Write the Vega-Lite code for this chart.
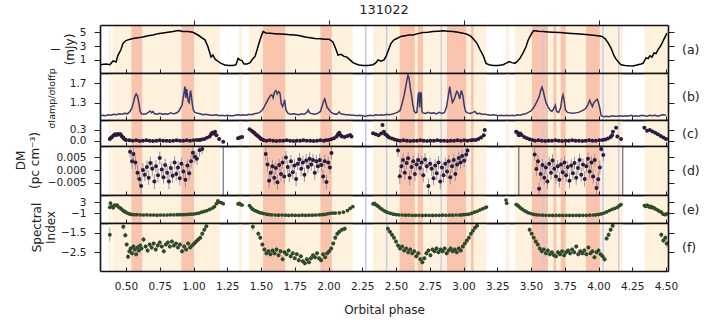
{
"$schema":"https://vega.github.io/schema/vega-lite/v6.json",
"padding":{"left":14,"top":3,"right":5,"bottom":5},
"config":{"view":{"stroke":null},"font":"DejaVu Sans","axis":{"labelFont":"DejaVu Sans","titleFont":"DejaVu Sans","labelFontSize":10.5,"titleFontSize":12,"titleFontWeight":"normal","labelColor":"#222","titleColor":"#222","tickColor":"#222","domainColor":"#111","grid":false}},
"datasets":{
"bands":[
{"x0":0.37,"x1":0.39,"kind":"light"},{"x0":0.40,"x1":1.196,"kind":"light"},{"x0":1.335,"x1":1.36,"kind":"light"},{"x0":1.41,"x1":2.18,"kind":"light"},{"x0":2.33,"x1":3.17,"kind":"light"},{"x0":3.31,"x1":3.34,"kind":"light"},{"x0":3.38,"x1":4.18,"kind":"light"},{"x0":4.34,"x1":4.52,"kind":"light"},
{"x0":0.54,"x1":0.62,"kind":"salmon"},{"x0":0.91,"x1":1.004,"kind":"salmon"},{"x0":1.515,"x1":1.68,"kind":"salmon"},{"x0":1.94,"x1":2.025,"kind":"salmon"},{"x0":2.527,"x1":2.64,"kind":"salmon"},{"x0":2.66,"x1":2.70,"kind":"salmon"},{"x0":2.878,"x1":3.02,"kind":"salmon"},{"x0":3.055,"x1":3.075,"kind":"salmon"},{"x0":3.507,"x1":3.626,"kind":"salmon"},{"x0":3.667,"x1":3.687,"kind":"salmon"},{"x0":3.72,"x1":3.757,"kind":"salmon"},{"x0":3.907,"x1":4.01,"kind":"salmon"},
{"x0":2.27,"x1":2.282,"kind":"lav"},{"x0":2.425,"x1":2.436,"kind":"lav"},{"x0":2.83,"x1":2.84,"kind":"lav"},{"x0":3.59,"x1":3.6,"kind":"lav"},{"x0":4.028,"x1":4.039,"kind":"lav"},{"x0":4.145,"x1":4.155,"kind":"lav"}
],
"flux":[
{"phase":0.307,"I":0.3},{"phase":0.352,"I":0.4},{"phase":0.381,"I":0.3},{"phase":0.404,"I":0.85},{"phase":0.426,"I":0.7},{"phase":0.441,"I":1.7},{"phase":0.463,"I":2.5},{"phase":0.478,"I":3.4},{"phase":0.5,"I":3.8},{"phase":0.515,"I":3.9},{"phase":0.552,"I":4.1},{"phase":0.589,"I":4.2},{"phase":0.626,"I":4.3},{"phase":0.663,"I":4.5},{"phase":0.7,"I":4.6},{"phase":0.737,"I":4.8},{"phase":0.774,"I":4.9},{"phase":0.811,"I":5.0},{"phase":0.848,"I":5.1},{"phase":0.885,"I":5.25},{"phase":0.922,"I":5.1},{"phase":0.959,"I":5.1},{"phase":0.996,"I":5.0},{"phase":1.033,"I":4.6},{"phase":1.063,"I":4.2},{"phase":1.085,"I":3.9},{"phase":1.107,"I":2.9},{"phase":1.13,"I":1.4},{"phase":1.144,"I":1.7},{"phase":1.159,"I":1.1},{"phase":1.181,"I":0.8},{"phase":1.204,"I":0.5},{"phase":1.233,"I":0.25},{"phase":1.263,"I":0.2},{"phase":1.293,"I":0.2},{"phase":1.315,"I":0.3},{"phase":1.33,"I":1.2},{"phase":1.344,"I":1.0},{"phase":1.359,"I":0.9},{"phase":1.374,"I":0.4},{"phase":1.396,"I":0.4},{"phase":1.419,"I":0.6},{"phase":1.441,"I":1.2},{"phase":1.456,"I":1.5},{"phase":1.47,"I":2.4},{"phase":1.485,"I":3.4},{"phase":1.5,"I":4.3},{"phase":1.515,"I":5.1},{"phase":1.537,"I":4.9},{"phase":1.567,"I":4.85},{"phase":1.604,"I":4.8},{"phase":1.641,"I":4.75},{"phase":1.678,"I":4.7},{"phase":1.715,"I":4.65},{"phase":1.752,"I":4.6},{"phase":1.789,"I":4.5},{"phase":1.826,"I":4.3},{"phase":1.863,"I":4.2},{"phase":1.9,"I":4.1},{"phase":1.937,"I":4.05},{"phase":1.974,"I":4.0},{"phase":2.004,"I":4.0},{"phase":2.033,"I":3.6},{"phase":2.056,"I":2.5},{"phase":2.07,"I":1.7},{"phase":2.093,"I":1.8},{"phase":2.115,"I":1.5},{"phase":2.137,"I":1.4},{"phase":2.159,"I":1.0},{"phase":2.181,"I":0.6},{"phase":2.204,"I":0.4},{"phase":2.226,"I":0.25},{"phase":2.256,"I":0.2},{"phase":2.293,"I":0.2},{"phase":2.33,"I":0.3},{"phase":2.352,"I":0.6},{"phase":2.367,"I":1.0},{"phase":2.389,"I":0.8},{"phase":2.411,"I":1.0},{"phase":2.426,"I":1.5},{"phase":2.448,"I":2.6},{"phase":2.463,"I":3.4},{"phase":2.485,"I":3.9},{"phase":2.507,"I":4.1},{"phase":2.537,"I":4.4},{"phase":2.567,"I":4.5},{"phase":2.596,"I":4.6},{"phase":2.626,"I":4.6},{"phase":2.663,"I":4.8},{"phase":2.7,"I":4.95},{"phase":2.737,"I":5.0},{"phase":2.774,"I":5.1},{"phase":2.811,"I":5.15},{"phase":2.848,"I":5.2},{"phase":2.885,"I":5.15},{"phase":2.922,"I":5.1},{"phase":2.959,"I":5.0},{"phase":2.996,"I":4.87},{"phase":3.026,"I":4.7},{"phase":3.056,"I":4.4},{"phase":3.078,"I":3.9},{"phase":3.1,"I":3.4},{"phase":3.122,"I":2.5},{"phase":3.144,"I":1.7},{"phase":3.167,"I":0.5},{"phase":3.189,"I":0.3},{"phase":3.219,"I":0.2},{"phase":3.256,"I":0.2},{"phase":3.293,"I":0.3},{"phase":3.315,"I":0.5},{"phase":3.337,"I":0.75},{"phase":3.359,"I":0.6},{"phase":3.381,"I":0.5},{"phase":3.404,"I":0.9},{"phase":3.419,"I":1.25},{"phase":3.441,"I":2.0},{"phase":3.463,"I":2.9},{"phase":3.478,"I":3.8},{"phase":3.493,"I":4.4},{"phase":3.507,"I":4.9},{"phase":3.522,"I":5.25},{"phase":3.552,"I":5.15},{"phase":3.589,"I":5.1},{"phase":3.626,"I":5.05},{"phase":3.663,"I":5.0},{"phase":3.715,"I":4.95},{"phase":3.774,"I":4.87},{"phase":3.833,"I":4.8},{"phase":3.885,"I":4.7},{"phase":3.944,"I":4.6},{"phase":3.996,"I":4.5},{"phase":4.026,"I":4.4},{"phase":4.048,"I":4.1},{"phase":4.07,"I":3.5},{"phase":4.093,"I":2.7},{"phase":4.115,"I":1.6},{"phase":4.13,"I":1.1},{"phase":4.152,"I":0.6},{"phase":4.167,"I":0.28},{"phase":4.196,"I":0.2},{"phase":4.226,"I":0.15},{"phase":4.256,"I":0.13},{"phase":4.293,"I":0.3},{"phase":4.315,"I":0.4},{"phase":4.33,"I":0.5},{"phase":4.352,"I":1.3},{"phase":4.367,"I":1.2},{"phase":4.381,"I":1.6},{"phase":4.396,"I":1.4},{"phase":4.411,"I":2.0},{"phase":4.426,"I":1.9},{"phase":4.441,"I":2.5},{"phase":4.456,"I":2.9},{"phase":4.47,"I":3.4},{"phase":4.485,"I":4.0},{"phase":4.507,"I":4.87}
],
"ratio":[
{"phase":0.31,"r":1.03},{"phase":0.33,"r":1.04},{"phase":0.35,"r":1.03},{"phase":0.37,"r":1.05},{"phase":0.39,"r":1.04},{"phase":0.41,"r":1.06},{"phase":0.43,"r":1.05},{"phase":0.45,"r":1.07},{"phase":0.47,"r":1.06},{"phase":0.49,"r":1.08},{"phase":0.51,"r":1.07},{"phase":0.53,"r":1.12},{"phase":0.545,"r":1.2},{"phase":0.555,"r":1.3},{"phase":0.565,"r":1.42},{"phase":0.575,"r":1.48},{"phase":0.585,"r":1.44},{"phase":0.595,"r":1.3},{"phase":0.605,"r":1.12},{"phase":0.615,"r":1.07},{"phase":0.63,"r":1.06},{"phase":0.65,"r":1.07},{"phase":0.67,"r":1.11},{"phase":0.68,"r":1.13},{"phase":0.69,"r":1.09},{"phase":0.7,"r":1.12},{"phase":0.71,"r":1.07},{"phase":0.73,"r":1.06},{"phase":0.75,"r":1.08},{"phase":0.77,"r":1.06},{"phase":0.79,"r":1.07},{"phase":0.81,"r":1.06},{"phase":0.83,"r":1.09},{"phase":0.85,"r":1.07},{"phase":0.87,"r":1.08},{"phase":0.89,"r":1.12},{"phase":0.905,"r":1.2},{"phase":0.915,"r":1.25},{"phase":0.925,"r":1.42},{"phase":0.932,"r":1.55},{"phase":0.937,"r":1.63},{"phase":0.943,"r":1.4},{"phase":0.95,"r":1.58},{"phase":0.955,"r":1.45},{"phase":0.962,"r":1.32},{"phase":0.968,"r":1.3},{"phase":0.975,"r":1.5},{"phase":0.979,"r":1.55},{"phase":0.985,"r":1.42},{"phase":0.992,"r":1.25},{"phase":1.0,"r":1.14},{"phase":1.01,"r":1.1},{"phase":1.03,"r":1.08},{"phase":1.05,"r":1.07},{"phase":1.07,"r":1.05},{"phase":1.09,"r":1.06},{"phase":1.11,"r":1.05},{"phase":1.13,"r":1.04},{"phase":1.15,"r":1.04},{"phase":1.17,"r":1.05},{"phase":1.19,"r":1.03},{"phase":1.21,"r":1.04},{"phase":1.23,"r":1.03},{"phase":1.25,"r":1.04},{"phase":1.27,"r":1.03},{"phase":1.29,"r":1.03},{"phase":1.31,"r":1.04},{"phase":1.33,"r":1.05},{"phase":1.35,"r":1.04},{"phase":1.37,"r":1.05},{"phase":1.39,"r":1.04},{"phase":1.41,"r":1.06},{"phase":1.43,"r":1.05},{"phase":1.45,"r":1.07},{"phase":1.47,"r":1.08},{"phase":1.49,"r":1.1},{"phase":1.51,"r":1.15},{"phase":1.525,"r":1.22},{"phase":1.54,"r":1.3},{"phase":1.555,"r":1.38},{"phase":1.57,"r":1.45},{"phase":1.58,"r":1.46},{"phase":1.59,"r":1.4},{"phase":1.6,"r":1.52},{"phase":1.61,"r":1.55},{"phase":1.62,"r":1.48},{"phase":1.63,"r":1.53},{"phase":1.64,"r":1.5},{"phase":1.65,"r":1.28},{"phase":1.66,"r":1.22},{"phase":1.67,"r":1.3},{"phase":1.675,"r":1.36},{"phase":1.685,"r":1.15},{"phase":1.7,"r":1.08},{"phase":1.72,"r":1.06},{"phase":1.74,"r":1.07},{"phase":1.76,"r":1.06},{"phase":1.78,"r":1.05},{"phase":1.8,"r":1.07},{"phase":1.82,"r":1.06},{"phase":1.84,"r":1.1},{"phase":1.85,"r":1.15},{"phase":1.86,"r":1.09},{"phase":1.88,"r":1.07},{"phase":1.9,"r":1.06},{"phase":1.92,"r":1.08},{"phase":1.94,"r":1.12},{"phase":1.955,"r":1.25},{"phase":1.965,"r":1.34},{"phase":1.972,"r":1.38},{"phase":1.98,"r":1.3},{"phase":1.99,"r":1.2},{"phase":2.0,"r":1.17},{"phase":2.02,"r":1.1},{"phase":2.04,"r":1.07},{"phase":2.06,"r":1.06},{"phase":2.08,"r":1.11},{"phase":2.09,"r":1.07},{"phase":2.11,"r":1.06},{"phase":2.13,"r":1.05},{"phase":2.15,"r":1.05},{"phase":2.17,"r":1.04},{"phase":2.19,"r":1.04},{"phase":2.21,"r":1.03},{"phase":2.23,"r":1.04},{"phase":2.25,"r":1.03},{"phase":2.27,"r":1.02},{"phase":2.29,"r":1.03},{"phase":2.31,"r":1.04},{"phase":2.33,"r":1.03},{"phase":2.35,"r":1.05},{"phase":2.37,"r":1.04},{"phase":2.39,"r":1.05},{"phase":2.41,"r":1.04},{"phase":2.43,"r":1.06},{"phase":2.45,"r":1.05},{"phase":2.47,"r":1.06},{"phase":2.49,"r":1.08},{"phase":2.51,"r":1.1},{"phase":2.53,"r":1.14},{"phase":2.545,"r":1.28},{"phase":2.56,"r":1.45},{"phase":2.57,"r":1.6},{"phase":2.58,"r":1.75},{"phase":2.589,"r":1.87},{"phase":2.597,"r":1.8},{"phase":2.605,"r":1.62},{"phase":2.615,"r":1.45},{"phase":2.625,"r":1.25},{"phase":2.635,"r":1.12},{"phase":2.645,"r":1.09},{"phase":2.655,"r":1.1},{"phase":2.665,"r":1.48},{"phase":2.67,"r":1.5},{"phase":2.675,"r":1.2},{"phase":2.682,"r":1.5},{"phase":2.687,"r":1.5},{"phase":2.692,"r":1.12},{"phase":2.7,"r":1.09},{"phase":2.72,"r":1.08},{"phase":2.74,"r":1.1},{"phase":2.76,"r":1.08},{"phase":2.78,"r":1.09},{"phase":2.8,"r":1.07},{"phase":2.82,"r":1.1},{"phase":2.84,"r":1.08},{"phase":2.86,"r":1.1},{"phase":2.875,"r":1.22},{"phase":2.888,"r":1.45},{"phase":2.898,"r":1.63},{"phase":2.908,"r":1.45},{"phase":2.918,"r":1.3},{"phase":2.928,"r":1.35},{"phase":2.94,"r":1.45},{"phase":2.95,"r":1.53},{"phase":2.96,"r":1.5},{"phase":2.972,"r":1.38},{"phase":2.984,"r":1.55},{"phase":2.995,"r":1.45},{"phase":3.005,"r":1.25},{"phase":3.015,"r":1.12},{"phase":3.03,"r":1.09},{"phase":3.05,"r":1.08},{"phase":3.07,"r":1.1},{"phase":3.085,"r":1.12},{"phase":3.1,"r":1.07},{"phase":3.12,"r":1.08},{"phase":3.14,"r":1.06},{"phase":3.16,"r":1.06},{"phase":3.18,"r":1.05},{"phase":3.2,"r":1.04},{"phase":3.22,"r":1.05},{"phase":3.24,"r":1.04},{"phase":3.26,"r":1.03},{"phase":3.28,"r":1.04},{"phase":3.3,"r":1.03},{"phase":3.32,"r":1.04},{"phase":3.34,"r":1.03},{"phase":3.36,"r":1.04},{"phase":3.38,"r":1.03},{"phase":3.4,"r":1.05},{"phase":3.42,"r":1.04},{"phase":3.44,"r":1.06},{"phase":3.46,"r":1.07},{"phase":3.48,"r":1.1},{"phase":3.5,"r":1.13},{"phase":3.52,"r":1.2},{"phase":3.54,"r":1.3},{"phase":3.56,"r":1.42},{"phase":3.572,"r":1.55},{"phase":3.581,"r":1.62},{"phase":3.59,"r":1.55},{"phase":3.6,"r":1.42},{"phase":3.612,"r":1.3},{"phase":3.625,"r":1.22},{"phase":3.64,"r":1.15},{"phase":3.655,"r":1.12},{"phase":3.67,"r":1.18},{"phase":3.68,"r":1.25},{"phase":3.69,"r":1.12},{"phase":3.705,"r":1.1},{"phase":3.72,"r":1.2},{"phase":3.73,"r":1.4},{"phase":3.737,"r":1.46},{"phase":3.745,"r":1.35},{"phase":3.755,"r":1.15},{"phase":3.77,"r":1.1},{"phase":3.79,"r":1.09},{"phase":3.81,"r":1.08},{"phase":3.83,"r":1.09},{"phase":3.85,"r":1.1},{"phase":3.87,"r":1.12},{"phase":3.89,"r":1.15},{"phase":3.905,"r":1.18},{"phase":3.92,"r":1.25},{"phase":3.935,"r":1.35},{"phase":3.945,"r":1.28},{"phase":3.955,"r":1.22},{"phase":3.965,"r":1.3},{"phase":3.975,"r":1.33},{"phase":3.99,"r":1.37},{"phase":4.0,"r":1.3},{"phase":4.01,"r":1.18},{"phase":4.02,"r":1.03},{"phase":4.04,"r":1.01},{"phase":4.06,"r":1.02},{"phase":4.08,"r":1.01},{"phase":4.1,"r":1.03},{"phase":4.12,"r":1.02},{"phase":4.14,"r":1.02},{"phase":4.16,"r":1.03},{"phase":4.18,"r":1.02},{"phase":4.2,"r":1.03},{"phase":4.22,"r":1.02},{"phase":4.24,"r":1.04},{"phase":4.26,"r":1.02},{"phase":4.28,"r":1.03},{"phase":4.3,"r":1.02},{"phase":4.32,"r":1.04},{"phase":4.34,"r":1.03},{"phase":4.36,"r":1.02},{"phase":4.38,"r":1.04},{"phase":4.4,"r":1.03},{"phase":4.42,"r":1.04},{"phase":4.44,"r":1.02},{"phase":4.46,"r":1.04},{"phase":4.48,"r":1.05},{"phase":4.5,"r":1.04}
],
"dmc":[
{"phase":0.38,"dm":0.05},{"phase":0.39,"dm":0.08},{"phase":0.4,"dm":0.12},{"phase":0.41,"dm":0.15},{"phase":0.42,"dm":0.18},{"phase":0.43,"dm":0.16},{"phase":0.44,"dm":0.19},{"phase":0.45,"dm":0.17},{"phase":0.46,"dm":0.18},{"phase":0.47,"dm":0.12},{"phase":0.48,"dm":0.08},{"phase":0.49,"dm":0.04},{"phase":0.5,"dm":0.02},
{"phase":0.525,"dm":0.01},{"phase":0.55,"dm":0.0},{"phase":0.575,"dm":0.01},{"phase":0.6,"dm":-0.01},{"phase":0.625,"dm":0.0},{"phase":0.65,"dm":0.01},{"phase":0.675,"dm":0.0},{"phase":0.7,"dm":-0.01},{"phase":0.725,"dm":0.0},{"phase":0.75,"dm":0.01},{"phase":0.775,"dm":0.0},{"phase":0.8,"dm":0.0},{"phase":0.825,"dm":-0.01},{"phase":0.85,"dm":0.0},{"phase":0.875,"dm":0.01},{"phase":0.9,"dm":0.0},{"phase":0.925,"dm":0.0},{"phase":0.95,"dm":0.01},{"phase":0.975,"dm":0.0},{"phase":1.0,"dm":0.01},{"phase":1.025,"dm":0.02},{"phase":1.045,"dm":0.02},
{"phase":1.06,"dm":0.03},{"phase":1.08,"dm":0.05},{"phase":1.1,"dm":0.08},{"phase":1.12,"dm":0.12},{"phase":1.13,"dm":0.18},{"phase":1.14,"dm":0.22},{"phase":1.15,"dm":0.2},{"phase":1.16,"dm":0.25},{"phase":1.17,"dm":0.15},{"phase":1.19,"dm":0.05},{"phase":1.22,"dm":-0.03},
{"phase":1.33,"dm":0.07},{"phase":1.345,"dm":0.09},{"phase":1.36,"dm":0.1},
{"phase":1.415,"dm":0.32},{"phase":1.43,"dm":0.28},{"phase":1.44,"dm":0.25},{"phase":1.45,"dm":0.22},{"phase":1.46,"dm":0.18},{"phase":1.47,"dm":0.15},{"phase":1.48,"dm":0.12},{"phase":1.49,"dm":0.09},{"phase":1.5,"dm":0.05},{"phase":1.51,"dm":0.03},{"phase":1.52,"dm":0.01},
{"phase":1.54,"dm":0.0},{"phase":1.565,"dm":0.01},{"phase":1.59,"dm":0.0},{"phase":1.615,"dm":-0.01},{"phase":1.64,"dm":0.0},{"phase":1.665,"dm":0.0},{"phase":1.69,"dm":0.01},{"phase":1.715,"dm":0.0},{"phase":1.74,"dm":-0.01},{"phase":1.765,"dm":0.0},{"phase":1.79,"dm":0.0},{"phase":1.815,"dm":0.01},{"phase":1.84,"dm":0.0},{"phase":1.865,"dm":0.0},{"phase":1.89,"dm":-0.01},{"phase":1.915,"dm":0.0},{"phase":1.94,"dm":0.01},{"phase":1.965,"dm":0.0},{"phase":1.98,"dm":0.01},
{"phase":2.0,"dm":0.02},{"phase":2.02,"dm":0.04},{"phase":2.04,"dm":0.07},{"phase":2.06,"dm":0.12},{"phase":2.07,"dm":0.18},{"phase":2.08,"dm":0.22},{"phase":2.09,"dm":0.15},{"phase":2.1,"dm":0.12},{"phase":2.12,"dm":0.1},{"phase":2.14,"dm":0.13},{"phase":2.16,"dm":0.16},{"phase":2.17,"dm":0.12},
{"phase":2.33,"dm":0.21},{"phase":2.35,"dm":0.18},{"phase":2.37,"dm":0.15},{"phase":2.39,"dm":0.2},{"phase":2.4,"dm":0.44},{"phase":2.41,"dm":0.25},{"phase":2.42,"dm":0.18},{"phase":2.43,"dm":0.16},{"phase":2.44,"dm":0.12},{"phase":2.45,"dm":0.09},{"phase":2.47,"dm":0.06},{"phase":2.49,"dm":0.03},{"phase":2.51,"dm":0.01},
{"phase":2.53,"dm":0.0},{"phase":2.555,"dm":0.01},{"phase":2.58,"dm":0.0},{"phase":2.605,"dm":-0.01},{"phase":2.63,"dm":0.0},{"phase":2.655,"dm":0.0},{"phase":2.68,"dm":0.01},{"phase":2.705,"dm":0.0},{"phase":2.73,"dm":-0.01},{"phase":2.755,"dm":0.0},{"phase":2.78,"dm":0.0},{"phase":2.805,"dm":0.01},{"phase":2.83,"dm":0.0},{"phase":2.855,"dm":0.0},{"phase":2.88,"dm":-0.01},{"phase":2.905,"dm":0.0},{"phase":2.93,"dm":0.0},{"phase":2.955,"dm":0.01},{"phase":2.98,"dm":0.0},{"phase":3.005,"dm":0.01},{"phase":3.03,"dm":0.0},{"phase":3.055,"dm":0.01},{"phase":3.07,"dm":0.02},
{"phase":3.09,"dm":0.02},{"phase":3.11,"dm":0.05},{"phase":3.13,"dm":0.09},{"phase":3.15,"dm":0.15},{"phase":3.157,"dm":0.3},
{"phase":3.39,"dm":0.25},{"phase":3.4,"dm":0.22},{"phase":3.41,"dm":0.15},{"phase":3.42,"dm":0.2},{"phase":3.43,"dm":0.16},{"phase":3.45,"dm":0.1},{"phase":3.47,"dm":0.07},{"phase":3.49,"dm":0.04},{"phase":3.51,"dm":0.02},
{"phase":3.53,"dm":0.0},{"phase":3.555,"dm":0.01},{"phase":3.58,"dm":0.0},{"phase":3.605,"dm":-0.01},{"phase":3.63,"dm":0.0},{"phase":3.655,"dm":0.0},{"phase":3.68,"dm":0.01},{"phase":3.705,"dm":0.0},{"phase":3.73,"dm":-0.01},{"phase":3.755,"dm":0.0},{"phase":3.78,"dm":0.0},{"phase":3.805,"dm":0.01},{"phase":3.83,"dm":0.0},{"phase":3.855,"dm":0.0},{"phase":3.88,"dm":-0.01},{"phase":3.905,"dm":0.0},{"phase":3.93,"dm":0.01},{"phase":3.955,"dm":0.0},{"phase":3.98,"dm":0.0},{"phase":4.005,"dm":0.01},{"phase":4.03,"dm":0.02},
{"phase":4.05,"dm":0.03},{"phase":4.07,"dm":0.06},{"phase":4.09,"dm":0.1},{"phase":4.1,"dm":0.15},{"phase":4.107,"dm":0.25},{"phase":4.13,"dm":0.36},{"phase":4.14,"dm":0.12},{"phase":4.167,"dm":0.05},
{"phase":4.34,"dm":0.36},{"phase":4.36,"dm":0.28},{"phase":4.38,"dm":0.3},{"phase":4.4,"dm":0.26},{"phase":4.42,"dm":0.22},{"phase":4.44,"dm":0.18},{"phase":4.46,"dm":0.13},{"phase":4.48,"dm":0.09},{"phase":4.5,"dm":0.05}
],
"dmd":[
{"phase":0.53,"dm":0.0072,"err":0.0025},{"phase":0.545,"dm":0.0035,"err":0.003},{"phase":0.555,"dm":0.0063,"err":0.0025},{"phase":0.57,"dm":0.003,"err":0.0028},{"phase":0.585,"dm":-0.001,"err":0.003},{"phase":0.6,"dm":-0.0035,"err":0.003},{"phase":0.612,"dm":-0.0063,"err":0.003},{"phase":0.625,"dm":0.0,"err":0.0028},{"phase":0.64,"dm":-0.0018,"err":0.0025},{"phase":0.655,"dm":0.0012,"err":0.0025},{"phase":0.668,"dm":-0.003,"err":0.0028},{"phase":0.68,"dm":0.0028,"err":0.0025},{"phase":0.695,"dm":0.0005,"err":0.003},{"phase":0.71,"dm":-0.0045,"err":0.003},{"phase":0.722,"dm":0.0015,"err":0.0025},{"phase":0.737,"dm":-0.002,"err":0.0028},{"phase":0.75,"dm":0.0048,"err":0.0025},{"phase":0.765,"dm":0.0002,"err":0.0028},{"phase":0.778,"dm":-0.0028,"err":0.0025},{"phase":0.79,"dm":0.002,"err":0.0025},{"phase":0.805,"dm":-0.001,"err":0.0028},{"phase":0.818,"dm":-0.0045,"err":0.003},{"phase":0.832,"dm":0.0008,"err":0.0025},{"phase":0.845,"dm":-0.0022,"err":0.0028},{"phase":0.86,"dm":0.003,"err":0.0025},{"phase":0.872,"dm":-0.0015,"err":0.0028},{"phase":0.885,"dm":0.001,"err":0.0025},{"phase":0.898,"dm":-0.0032,"err":0.0028},{"phase":0.91,"dm":0.0025,"err":0.0025},{"phase":0.925,"dm":-0.0005,"err":0.0028},{"phase":0.94,"dm":-0.0038,"err":0.003},{"phase":0.955,"dm":0.0018,"err":0.0025},{"phase":0.968,"dm":-0.0012,"err":0.0028},{"phase":0.982,"dm":0.0035,"err":0.0025},{"phase":0.995,"dm":0.0068,"err":0.0025},{"phase":1.01,"dm":0.0053,"err":0.0025},{"phase":1.025,"dm":0.0045,"err":0.0025},{"phase":1.045,"dm":0.0078,"err":0.0025},{"phase":1.065,"dm":0.0083,"err":0.002},
{"phase":1.535,"dm":0.0063,"err":0.0025},{"phase":1.548,"dm":0.0022,"err":0.0028},{"phase":1.56,"dm":-0.0042,"err":0.003},{"phase":1.572,"dm":-0.001,"err":0.0028},{"phase":1.585,"dm":0.0015,"err":0.0025},{"phase":1.598,"dm":-0.003,"err":0.0028},{"phase":1.61,"dm":0.0008,"err":0.0025},{"phase":1.622,"dm":-0.0048,"err":0.003},{"phase":1.635,"dm":0.002,"err":0.0025},{"phase":1.648,"dm":-0.0015,"err":0.0028},{"phase":1.66,"dm":0.003,"err":0.0025},{"phase":1.672,"dm":-0.0025,"err":0.0028},{"phase":1.685,"dm":0.005,"err":0.0025},{"phase":1.698,"dm":0.0012,"err":0.0025},{"phase":1.71,"dm":-0.002,"err":0.0028},{"phase":1.722,"dm":0.0035,"err":0.0025},{"phase":1.735,"dm":-0.0008,"err":0.0028},{"phase":1.748,"dm":0.0018,"err":0.0025},{"phase":1.76,"dm":-0.0035,"err":0.0028},{"phase":1.772,"dm":0.0025,"err":0.0025},{"phase":1.785,"dm":0.0042,"err":0.0025},{"phase":1.798,"dm":0.0005,"err":0.0028},{"phase":1.81,"dm":0.003,"err":0.0025},{"phase":1.822,"dm":-0.0018,"err":0.0028},{"phase":1.835,"dm":0.0038,"err":0.0025},{"phase":1.848,"dm":0.0012,"err":0.0025},{"phase":1.86,"dm":0.0045,"err":0.0025},{"phase":1.872,"dm":0.0022,"err":0.0025},{"phase":1.885,"dm":0.004,"err":0.0025},{"phase":1.898,"dm":-0.001,"err":0.0028},{"phase":1.91,"dm":0.0035,"err":0.0025},{"phase":1.922,"dm":0.0015,"err":0.0025},{"phase":1.935,"dm":0.004,"err":0.0025},{"phase":1.948,"dm":0.002,"err":0.0025},{"phase":1.96,"dm":-0.0025,"err":0.0028},{"phase":1.972,"dm":0.0035,"err":0.0025},{"phase":1.985,"dm":-0.0047,"err":0.003},{"phase":1.998,"dm":0.003,"err":0.0025},{"phase":2.01,"dm":0.001,"err":0.0025},{"phase":2.022,"dm":0.0067,"err":0.0025},
{"phase":2.515,"dm":0.0077,"err":0.0025},{"phase":2.528,"dm":-0.0024,"err":0.003},{"phase":2.54,"dm":0.0015,"err":0.0028},{"phase":2.552,"dm":0.004,"err":0.0025},{"phase":2.565,"dm":-0.001,"err":0.0028},{"phase":2.578,"dm":0.0028,"err":0.0025},{"phase":2.59,"dm":0.0047,"err":0.0025},{"phase":2.602,"dm":-0.003,"err":0.003},{"phase":2.615,"dm":0.0012,"err":0.0025},{"phase":2.628,"dm":0.0035,"err":0.0025},{"phase":2.64,"dm":-0.0015,"err":0.0028},{"phase":2.652,"dm":0.0022,"err":0.0025},{"phase":2.665,"dm":0.004,"err":0.0025},{"phase":2.678,"dm":0.0008,"err":0.0028},{"phase":2.69,"dm":0.003,"err":0.0025},{"phase":2.702,"dm":-0.002,"err":0.0028},{"phase":2.715,"dm":0.0042,"err":0.0025},{"phase":2.728,"dm":0.0015,"err":0.0025},{"phase":2.74,"dm":-0.0063,"err":0.003},{"phase":2.752,"dm":0.0025,"err":0.0025},{"phase":2.765,"dm":0.0005,"err":0.0028},{"phase":2.778,"dm":-0.0032,"err":0.0028},{"phase":2.79,"dm":0.0018,"err":0.0025},{"phase":2.802,"dm":-0.0012,"err":0.0028},{"phase":2.815,"dm":0.003,"err":0.0025},{"phase":2.828,"dm":-0.0045,"err":0.003},{"phase":2.84,"dm":0.001,"err":0.0025},{"phase":2.852,"dm":-0.002,"err":0.0028},{"phase":2.865,"dm":0.0025,"err":0.0025},{"phase":2.878,"dm":-0.0005,"err":0.0028},{"phase":2.89,"dm":0.0035,"err":0.0025},{"phase":2.902,"dm":-0.0028,"err":0.0028},{"phase":2.915,"dm":0.0015,"err":0.0025},{"phase":2.928,"dm":0.004,"err":0.0025},{"phase":2.94,"dm":-0.0015,"err":0.0028},{"phase":2.952,"dm":0.0022,"err":0.0025},{"phase":2.965,"dm":0.0048,"err":0.0025},{"phase":2.978,"dm":0.003,"err":0.0025},{"phase":2.99,"dm":0.0056,"err":0.0025},{"phase":3.005,"dm":0.0037,"err":0.0025},{"phase":3.02,"dm":0.0062,"err":0.0025},{"phase":3.03,"dm":0.0077,"err":0.0018},
{"phase":3.527,"dm":0.0062,"err":0.0025},{"phase":3.54,"dm":0.0004,"err":0.0028},{"phase":3.552,"dm":0.0035,"err":0.0025},{"phase":3.56,"dm":-0.0073,"err":0.0025},{"phase":3.572,"dm":-0.0015,"err":0.0028},{"phase":3.585,"dm":0.002,"err":0.0025},{"phase":3.598,"dm":-0.003,"err":0.0028},{"phase":3.61,"dm":0.001,"err":0.0025},{"phase":3.622,"dm":-0.0045,"err":0.003},{"phase":3.635,"dm":0.0025,"err":0.0025},{"phase":3.648,"dm":-0.001,"err":0.0028},{"phase":3.66,"dm":0.0038,"err":0.0025},{"phase":3.672,"dm":0.0005,"err":0.0028},{"phase":3.685,"dm":-0.0025,"err":0.0028},{"phase":3.698,"dm":0.0015,"err":0.0025},{"phase":3.71,"dm":-0.0038,"err":0.003},{"phase":3.722,"dm":0.0022,"err":0.0025},{"phase":3.735,"dm":-0.0008,"err":0.0028},{"phase":3.748,"dm":0.003,"err":0.0025},{"phase":3.76,"dm":-0.002,"err":0.0028},{"phase":3.772,"dm":0.0012,"err":0.0025},{"phase":3.785,"dm":-0.0042,"err":0.003},{"phase":3.798,"dm":0.0018,"err":0.0025},{"phase":3.81,"dm":-0.0012,"err":0.0028},{"phase":3.822,"dm":0.0028,"err":0.0025},{"phase":3.835,"dm":-0.003,"err":0.0028},{"phase":3.848,"dm":0.0008,"err":0.0025},{"phase":3.86,"dm":0.004,"err":0.0025},{"phase":3.872,"dm":-0.0018,"err":0.0028},{"phase":3.885,"dm":0.0022,"err":0.0025},{"phase":3.898,"dm":-0.0035,"err":0.003},{"phase":3.91,"dm":0.0015,"err":0.0025},{"phase":3.922,"dm":0.0045,"err":0.0025},{"phase":3.935,"dm":-0.0005,"err":0.0028},{"phase":3.948,"dm":0.003,"err":0.0025},{"phase":3.96,"dm":-0.0025,"err":0.0028},{"phase":3.972,"dm":0.004,"err":0.0025},{"phase":3.985,"dm":-0.007,"err":0.0025},{"phase":3.998,"dm":-0.0036,"err":0.003},{"phase":4.01,"dm":0.001,"err":0.0028},{"phase":4.02,"dm":0.0083,"err":0.0012},{"phase":4.035,"dm":0.006,"err":0.0025}
],
"dmbig":[{"phase":1.22},{"phase":3.41},{"phase":4.18}],
"sie":[
{"phase":0.38,"si":1.2},{"phase":0.385,"si":2.7},{"phase":0.395,"si":1.5},{"phase":0.405,"si":1.0},{"phase":0.415,"si":2.0},{"phase":0.425,"si":1.8},{"phase":0.435,"si":2.0},{"phase":0.445,"si":1.3},{"phase":0.455,"si":1.0},{"phase":0.465,"si":0.6},{"phase":0.475,"si":0.2},{"phase":0.485,"si":-0.2},{"phase":0.495,"si":-0.5},{"phase":0.51,"si":-0.9},{"phase":0.525,"si":-1.2},{"phase":0.54,"si":-1.4},{"phase":0.56,"si":-1.5},
{"phase":0.58,"si":-1.5},{"phase":0.605,"si":-1.55},{"phase":0.63,"si":-1.6},{"phase":0.655,"si":-1.55},{"phase":0.68,"si":-1.6},{"phase":0.705,"si":-1.6},{"phase":0.73,"si":-1.65},{"phase":0.755,"si":-1.6},{"phase":0.78,"si":-1.6},{"phase":0.805,"si":-1.6},{"phase":0.83,"si":-1.55},{"phase":0.855,"si":-1.55},{"phase":0.88,"si":-1.5},{"phase":0.9,"si":-1.5},
{"phase":0.92,"si":-1.5},{"phase":0.94,"si":-1.45},{"phase":0.96,"si":-1.4},{"phase":0.98,"si":-1.3},{"phase":1.0,"si":-1.25},{"phase":1.02,"si":-1.1},{"phase":1.04,"si":-0.9},{"phase":1.06,"si":-0.6},{"phase":1.08,"si":-0.3},{"phase":1.1,"si":0.0},{"phase":1.12,"si":0.4},{"phase":1.14,"si":0.9},{"phase":1.155,"si":1.4},{"phase":1.17,"si":2.5},{"phase":1.18,"si":3.5},{"phase":1.19,"si":3.1},{"phase":1.205,"si":2.9},{"phase":1.22,"si":2.5},
{"phase":1.33,"si":2.4},{"phase":1.34,"si":2.6},{"phase":1.35,"si":2.2},{"phase":1.36,"si":2.0},{"phase":1.415,"si":1.8},{"phase":1.425,"si":1.2},{"phase":1.435,"si":0.6},{"phase":1.445,"si":0.3},{"phase":1.46,"si":-0.1},{"phase":1.475,"si":-0.4},{"phase":1.49,"si":-0.7},{"phase":1.505,"si":-0.9},{"phase":1.52,"si":-1.1},{"phase":1.54,"si":-1.3},{"phase":1.56,"si":-1.45},
{"phase":1.58,"si":-1.55},{"phase":1.605,"si":-1.6},{"phase":1.63,"si":-1.65},{"phase":1.655,"si":-1.6},{"phase":1.68,"si":-1.65},{"phase":1.705,"si":-1.7},{"phase":1.73,"si":-1.65},{"phase":1.755,"si":-1.7},{"phase":1.78,"si":-1.7},{"phase":1.805,"si":-1.65},{"phase":1.83,"si":-1.7},{"phase":1.855,"si":-1.65},{"phase":1.88,"si":-1.65},{"phase":1.905,"si":-1.6},{"phase":1.93,"si":-1.55},{"phase":1.95,"si":-1.5},
{"phase":1.97,"si":-1.4},{"phase":1.99,"si":-1.2},{"phase":2.01,"si":-1.0},{"phase":2.03,"si":-0.9},{"phase":2.05,"si":-0.9},{"phase":2.08,"si":-0.8},{"phase":2.11,"si":-0.6},{"phase":2.14,"si":0.0},{"phase":2.16,"si":0.8},{"phase":2.18,"si":1.4},
{"phase":2.33,"si":2.4},{"phase":2.34,"si":2.6},{"phase":2.35,"si":2.2},{"phase":2.36,"si":1.8},{"phase":2.37,"si":1.5},{"phase":2.38,"si":1.0},{"phase":2.395,"si":0.5},{"phase":2.41,"si":0.0},{"phase":2.425,"si":-0.4},{"phase":2.44,"si":-0.7},{"phase":2.46,"si":-1.0},{"phase":2.48,"si":-1.3},{"phase":2.5,"si":-1.45},
{"phase":2.52,"si":-1.55},{"phase":2.545,"si":-1.6},{"phase":2.57,"si":-1.65},{"phase":2.595,"si":-1.65},{"phase":2.62,"si":-1.7},{"phase":2.645,"si":-1.7},{"phase":2.67,"si":-1.7},{"phase":2.695,"si":-1.75},{"phase":2.72,"si":-1.7},{"phase":2.745,"si":-1.7},{"phase":2.77,"si":-1.75},{"phase":2.795,"si":-1.7},{"phase":2.82,"si":-1.7},{"phase":2.845,"si":-1.65},{"phase":2.87,"si":-1.7},{"phase":2.895,"si":-1.65},{"phase":2.92,"si":-1.65},{"phase":2.945,"si":-1.6},{"phase":2.97,"si":-1.6},{"phase":2.985,"si":-1.55},
{"phase":3.0,"si":-1.5},{"phase":3.02,"si":-1.4},{"phase":3.04,"si":-1.25},{"phase":3.06,"si":-1.0},{"phase":3.08,"si":-0.6},{"phase":3.1,"si":-0.3},{"phase":3.12,"si":0.2},{"phase":3.14,"si":0.6},{"phase":3.16,"si":1.0},{"phase":3.17,"si":1.3},
{"phase":3.315,"si":3.8},{"phase":3.32,"si":2.7},{"phase":3.39,"si":2.2},{"phase":3.4,"si":2.0},{"phase":3.41,"si":1.5},{"phase":3.42,"si":1.0},{"phase":3.435,"si":0.5},{"phase":3.45,"si":0.0},{"phase":3.465,"si":-0.4},{"phase":3.48,"si":-0.8},{"phase":3.5,"si":-1.1},{"phase":3.52,"si":-1.4},{"phase":3.54,"si":-1.55},
{"phase":3.56,"si":-1.6},{"phase":3.585,"si":-1.65},{"phase":3.61,"si":-1.7},{"phase":3.635,"si":-1.7},{"phase":3.66,"si":-1.75},{"phase":3.685,"si":-1.75},{"phase":3.71,"si":-1.7},{"phase":3.735,"si":-1.75},{"phase":3.76,"si":-1.75},{"phase":3.785,"si":-1.7},{"phase":3.81,"si":-1.75},{"phase":3.835,"si":-1.7},{"phase":3.86,"si":-1.75},{"phase":3.885,"si":-1.7},{"phase":3.91,"si":-1.7},{"phase":3.935,"si":-1.65},{"phase":3.96,"si":-1.6},
{"phase":3.98,"si":-1.55},{"phase":4.0,"si":-1.4},{"phase":4.02,"si":-1.2},{"phase":4.04,"si":-0.9},{"phase":4.06,"si":-0.5},{"phase":4.08,"si":0.0},{"phase":4.1,"si":0.4},{"phase":4.12,"si":0.8},{"phase":4.14,"si":1.2},{"phase":4.155,"si":1.8},{"phase":4.167,"si":2.2},
{"phase":4.34,"si":1.8},{"phase":4.35,"si":1.5},{"phase":4.36,"si":2.0},{"phase":4.37,"si":1.6},{"phase":4.38,"si":1.2},{"phase":4.39,"si":1.5},{"phase":4.4,"si":1.0},{"phase":4.41,"si":1.1},{"phase":4.42,"si":0.6},{"phase":4.435,"si":0.3},{"phase":4.45,"si":-0.2},{"phase":4.465,"si":-0.6},{"phase":4.48,"si":-1.3},{"phase":4.495,"si":-1.5},{"phase":4.505,"si":-1.2}
],
"sif":[
{"phase":0.38,"si":-1.6,"err":0.35},{"phase":0.48,"si":-1.2,"err":0.15},{"phase":0.495,"si":-1.63,"err":0.12},{"phase":0.505,"si":-2.1,"err":0.12},{"phase":0.515,"si":-2.72,"err":0.15},{"phase":0.525,"si":-2.45,"err":0.15},{"phase":0.535,"si":-2.3,"err":0.12},{"phase":0.545,"si":-2.55,"err":0.15},{"phase":0.555,"si":-2.2,"err":0.12},{"phase":0.565,"si":-2.35,"err":0.12},{"phase":0.575,"si":-2.6,"err":0.15},{"phase":0.585,"si":-2.25,"err":0.12},{"phase":0.595,"si":-2.4,"err":0.12},{"phase":0.605,"si":-2.15,"err":0.12},{"phase":0.615,"si":-2.3,"err":0.12},{"phase":0.63,"si":-1.85,"err":0.15},{"phase":0.645,"si":-2.2,"err":0.12},{"phase":0.66,"si":-2.4,"err":0.12},{"phase":0.675,"si":-2.1,"err":0.12},{"phase":0.69,"si":-2.25,"err":0.12},{"phase":0.705,"si":-2.05,"err":0.12},{"phase":0.72,"si":-2.35,"err":0.12},{"phase":0.735,"si":-2.15,"err":0.12},{"phase":0.75,"si":-2.0,"err":0.12},{"phase":0.765,"si":-2.2,"err":0.12},{"phase":0.78,"si":-2.45,"err":0.15},{"phase":0.795,"si":-2.1,"err":0.12},{"phase":0.81,"si":-2.0,"err":0.12},{"phase":0.825,"si":-2.2,"err":0.12},{"phase":0.84,"si":-1.95,"err":0.12},{"phase":0.855,"si":-2.15,"err":0.12},{"phase":0.87,"si":-2.05,"err":0.12},{"phase":0.885,"si":-2.25,"err":0.12},{"phase":0.9,"si":-2.1,"err":0.12},{"phase":0.915,"si":-2.45,"err":0.12},{"phase":0.93,"si":-2.2,"err":0.12},{"phase":0.945,"si":-2.35,"err":0.12},{"phase":0.96,"si":-2.05,"err":0.12},{"phase":0.975,"si":-2.25,"err":0.12},{"phase":0.99,"si":-2.15,"err":0.12},{"phase":1.005,"si":-2.05,"err":0.12},{"phase":1.02,"si":-1.95,"err":0.12},{"phase":1.035,"si":-1.85,"err":0.12},{"phase":1.05,"si":-1.75,"err":0.12},{"phase":1.065,"si":-1.55,"err":0.12},{"phase":1.08,"si":-1.35,"err":0.12},{"phase":1.095,"si":-1.17,"err":0.12},
{"phase":1.44,"si":-1.2,"err":0.2},{"phase":1.48,"si":-1.55,"err":0.15},{"phase":1.495,"si":-1.75,"err":0.12},{"phase":1.51,"si":-2.1,"err":0.12},{"phase":1.525,"si":-2.35,"err":0.12},{"phase":1.54,"si":-2.55,"err":0.15},{"phase":1.555,"si":-2.45,"err":0.12},{"phase":1.57,"si":-2.6,"err":0.12},{"phase":1.585,"si":-2.4,"err":0.12},{"phase":1.6,"si":-2.55,"err":0.12},{"phase":1.615,"si":-2.35,"err":0.15},{"phase":1.63,"si":-2.65,"err":0.12},{"phase":1.645,"si":-2.45,"err":0.12},{"phase":1.66,"si":-2.85,"err":0.15},{"phase":1.675,"si":-2.5,"err":0.12},{"phase":1.69,"si":-2.6,"err":0.12},{"phase":1.705,"si":-2.4,"err":0.12},{"phase":1.72,"si":-2.7,"err":0.12},{"phase":1.735,"si":-2.55,"err":0.12},{"phase":1.75,"si":-2.8,"err":0.12},{"phase":1.765,"si":-2.6,"err":0.12},{"phase":1.78,"si":-2.9,"err":0.12},{"phase":1.795,"si":-2.7,"err":0.12},{"phase":1.81,"si":-2.95,"err":0.12},{"phase":1.825,"si":-3.05,"err":0.12},{"phase":1.84,"si":-2.85,"err":0.12},{"phase":1.855,"si":-3.0,"err":0.12},{"phase":1.87,"si":-2.8,"err":0.12},{"phase":1.885,"si":-2.65,"err":0.12},{"phase":1.9,"si":-2.75,"err":0.12},{"phase":1.915,"si":-2.55,"err":0.12},{"phase":1.93,"si":-2.8,"err":0.12},{"phase":1.945,"si":-2.9,"err":0.12},{"phase":1.96,"si":-2.6,"err":0.12},{"phase":1.975,"si":-2.75,"err":0.12},{"phase":1.99,"si":-2.55,"err":0.12},{"phase":2.005,"si":-2.45,"err":0.12},{"phase":2.02,"si":-2.3,"err":0.12},{"phase":2.035,"si":-2.05,"err":0.12},{"phase":2.05,"si":-1.75,"err":0.12},{"phase":2.065,"si":-1.55,"err":0.12},{"phase":2.08,"si":-1.45,"err":0.12},{"phase":2.1,"si":-1.35,"err":0.12},{"phase":2.12,"si":-1.3,"err":0.12},
{"phase":2.44,"si":-1.3,"err":0.2},{"phase":2.455,"si":-1.45,"err":0.12},{"phase":2.47,"si":-1.6,"err":0.12},{"phase":2.485,"si":-1.75,"err":0.12},{"phase":2.5,"si":-1.95,"err":0.12},{"phase":2.515,"si":-2.15,"err":0.12},{"phase":2.53,"si":-2.3,"err":0.12},{"phase":2.545,"si":-2.2,"err":0.12},{"phase":2.56,"si":-2.4,"err":0.12},{"phase":2.575,"si":-2.3,"err":0.12},{"phase":2.59,"si":-2.5,"err":0.12},{"phase":2.605,"si":-2.35,"err":0.12},{"phase":2.62,"si":-2.55,"err":0.12},{"phase":2.635,"si":-2.45,"err":0.12},{"phase":2.65,"si":-2.7,"err":0.12},{"phase":2.665,"si":-2.55,"err":0.12},{"phase":2.68,"si":-2.85,"err":0.12},{"phase":2.695,"si":-3.0,"err":0.15},{"phase":2.71,"si":-2.8,"err":0.12},{"phase":2.725,"si":-2.55,"err":0.12},{"phase":2.74,"si":-2.4,"err":0.12},{"phase":2.755,"si":-2.65,"err":0.12},{"phase":2.77,"si":-2.35,"err":0.12},{"phase":2.785,"si":-2.45,"err":0.12},{"phase":2.8,"si":-2.3,"err":0.12},{"phase":2.815,"si":-2.5,"err":0.12},{"phase":2.83,"si":-2.35,"err":0.12},{"phase":2.845,"si":-2.45,"err":0.12},{"phase":2.86,"si":-2.3,"err":0.12},{"phase":2.875,"si":-2.55,"err":0.12},{"phase":2.89,"si":-2.4,"err":0.12},{"phase":2.905,"si":-2.3,"err":0.12},{"phase":2.92,"si":-2.45,"err":0.12},{"phase":2.935,"si":-2.35,"err":0.12},{"phase":2.95,"si":-2.5,"err":0.12},{"phase":2.965,"si":-2.3,"err":0.12},{"phase":2.98,"si":-2.4,"err":0.12},{"phase":2.995,"si":-2.2,"err":0.12},{"phase":3.01,"si":-2.05,"err":0.12},{"phase":3.025,"si":-1.9,"err":0.12},{"phase":3.04,"si":-1.75,"err":0.12},{"phase":3.055,"si":-1.55,"err":0.12},{"phase":3.07,"si":-1.4,"err":0.12},{"phase":3.085,"si":-1.25,"err":0.12},{"phase":3.1,"si":-1.15,"err":0.12},
{"phase":3.49,"si":-1.35,"err":0.15},{"phase":3.505,"si":-1.55,"err":0.12},{"phase":3.52,"si":-1.75,"err":0.12},{"phase":3.535,"si":-1.95,"err":0.12},{"phase":3.55,"si":-2.1,"err":0.12},{"phase":3.565,"si":-2.3,"err":0.12},{"phase":3.58,"si":-2.45,"err":0.12},{"phase":3.595,"si":-2.35,"err":0.12},{"phase":3.61,"si":-2.55,"err":0.12},{"phase":3.625,"si":-2.4,"err":0.12},{"phase":3.64,"si":-2.6,"err":0.12},{"phase":3.655,"si":-2.5,"err":0.12},{"phase":3.67,"si":-2.65,"err":0.12},{"phase":3.685,"si":-2.7,"err":0.12},{"phase":3.7,"si":-2.5,"err":0.12},{"phase":3.715,"si":-2.6,"err":0.12},{"phase":3.73,"si":-2.45,"err":0.12},{"phase":3.745,"si":-2.65,"err":0.12},{"phase":3.76,"si":-2.5,"err":0.12},{"phase":3.775,"si":-2.4,"err":0.12},{"phase":3.79,"si":-2.55,"err":0.12},{"phase":3.805,"si":-2.35,"err":0.12},{"phase":3.82,"si":-2.5,"err":0.12},{"phase":3.835,"si":-2.2,"err":0.12},{"phase":3.85,"si":-2.6,"err":0.12},{"phase":3.865,"si":-2.45,"err":0.12},{"phase":3.88,"si":-2.55,"err":0.12},{"phase":3.895,"si":-2.4,"err":0.12},{"phase":3.91,"si":-2.6,"err":0.12},{"phase":3.925,"si":-2.25,"err":0.12},{"phase":3.94,"si":-2.55,"err":0.12},{"phase":3.955,"si":-2.45,"err":0.12},{"phase":3.97,"si":-2.75,"err":0.12},{"phase":3.985,"si":-2.5,"err":0.12},{"phase":4.0,"si":-2.4,"err":0.12},{"phase":4.015,"si":-2.6,"err":0.12},{"phase":4.03,"si":-2.7,"err":0.15},{"phase":4.045,"si":-2.85,"err":0.15},{"phase":4.06,"si":-1.8,"err":0.12},{"phase":4.075,"si":-1.6,"err":0.12},{"phase":4.09,"si":-1.35,"err":0.12},{"phase":4.105,"si":-1.15,"err":0.12},
{"phase":4.465,"si":-1.6,"err":0.15},{"phase":4.48,"si":-1.9,"err":0.15},{"phase":4.495,"si":-1.75,"err":0.15},{"phase":4.505,"si":-2.05,"err":0.2}
]
},
"vconcat":[
{"width":568,"height":48,
"title":{"text":"131022","fontSize":13,"font":"DejaVu Sans","fontWeight":"normal","anchor":"middle","offset":3,"color":"#222"},
"layer":[
{"data":{"name":"bands"},"mark":{"type":"rect","clip":true},"encoding":{"x":{"field":"x0","type":"quantitative","scale":{"domain":[0.3074,4.5148],"nice":false,"zero":false},"axis":null},"x2":{"field":"x1"},"color":{"field":"kind","type":"nominal","scale":{"domain":["light","salmon","lav"],"range":["#fef2df","#f9c4ad","#cbc8e8"]},"legend":null}}},
{"data":{"name":"flux"},"mark":{"type":"line","color":"#000","strokeWidth":1.5,"clip":true},"encoding":{"x":{"field":"phase","type":"quantitative","axis":{"orient":"bottom","values":[0.5,0.75,1,1.25,1.5,1.75,2,2.25,2.5,2.75,3,3.25,3.5,3.75,4,4.25,4.5],"labels":false,"tickSize":-4,"domainColor":"#111","domainWidth":1.6,"title":null,"zindex":1}},"y":{"field":"I","type":"quantitative","scale":{"domain":[-0.9,6.05],"nice":false,"zero":false},"axis":{"orient":"left","values":[1,3,5],"format":"d","tickSize":6,"labelPadding":8,"domainColor":"#111","domainWidth":1.6,"title":["I","(mJy)"],"titleX":-45,"titleY":24,"titleBaseline":"middle","titleAlign":"center","titleLineHeight":14,"zindex":1}}}},
{"data":{"name":"flux"},"mark":{"type":"line","opacity":0},"encoding":{"x":{"field":"phase","type":"quantitative","axis":{"orient":"top","values":[1,2,3,4],"labels":false,"tickSize":5,"domainColor":"#111","domainWidth":1.6,"title":null,"zindex":1}},"y":{"field":"I","type":"quantitative","axis":{"orient":"right","values":[1,3,5],"labels":false,"tickSize":6,"domainColor":"#111","domainWidth":1.6,"title":"(a)","titleAngle":0,"titleAlign":"left","titleBaseline":"middle","titlePadding":7,"titleFontSize":12.5,"zindex":1}}}}
],
"resolve":{"axis":{"x":"independent","y":"independent"}}},
{"width":568,"height":47,
"layer":[
{"data":{"name":"bands"},"mark":{"type":"rect","clip":true},"encoding":{"x":{"field":"x0","type":"quantitative","scale":{"domain":[0.3074,4.5148],"nice":false,"zero":false},"axis":null},"x2":{"field":"x1"},"color":{"field":"kind","type":"nominal","scale":{"domain":["light","salmon","lav"],"range":["#fef2df","#f9c4ad","#cbc8e8"]},"legend":null}}},
{"mark":{"type":"rule","color":"#888","strokeDash":[2,3],"strokeWidth":1},"encoding":{"y":{"datum":1.15,"type":"quantitative","axis":null}}},
{"data":{"name":"ratio"},"mark":{"type":"line","color":"#3c3a68","strokeWidth":1.5,"clip":true},"encoding":{"x":{"field":"phase","type":"quantitative","axis":{"orient":"bottom","values":[0.5,0.75,1,1.25,1.5,1.75,2,2.25,2.5,2.75,3,3.25,3.5,3.75,4,4.25,4.5],"labels":false,"tickSize":-4,"domainColor":"#111","domainWidth":1.6,"title":null,"zindex":1}},"y":{"field":"r","type":"quantitative","scale":{"domain":[0.943,1.912],"nice":false,"zero":false},"axis":{"orient":"left","values":[1.3,1.7],"format":".1f","tickSize":6,"labelPadding":8,"domainColor":"#111","domainWidth":1.6,"title":"σIamp/σIoffp","titleFontSize":9.5,"titleX":-49,"titleY":25,"titleBaseline":"middle","titleAlign":"center","zindex":1}}}},
{"data":{"name":"ratio"},"mark":{"type":"line","opacity":0},"encoding":{"x":{"field":"phase","type":"quantitative","axis":{"orient":"top","ticks":false,"labels":false,"domainColor":"#111","domainWidth":1.6,"title":null,"zindex":1}},"y":{"field":"r","type":"quantitative","axis":{"orient":"right","values":[1.3,1.7],"labels":false,"tickSize":6,"domainColor":"#111","domainWidth":1.6,"title":"(b)","titleAngle":0,"titleAlign":"left","titleBaseline":"middle","titlePadding":7,"titleFontSize":12.5,"zindex":1}}}}
],
"resolve":{"axis":{"x":"independent","y":"independent"}}},
{"width":568,"height":26,
"layer":[
{"data":{"name":"bands"},"mark":{"type":"rect","clip":true},"encoding":{"x":{"field":"x0","type":"quantitative","scale":{"domain":[0.3074,4.5148],"nice":false,"zero":false},"axis":null},"x2":{"field":"x1"},"color":{"field":"kind","type":"nominal","scale":{"domain":["light","salmon","lav"],"range":["#fef2df","#f9c4ad","#cbc8e8"]},"legend":null}}},
{"data":{"name":"dmc"},"mark":{"type":"circle","size":16,"color":"#2a1b3d","opacity":1,"clip":true},"encoding":{"x":{"field":"phase","type":"quantitative","axis":{"orient":"bottom","values":[0.5,0.75,1,1.25,1.5,1.75,2,2.25,2.5,2.75,3,3.25,3.5,3.75,4,4.25,4.5],"labels":false,"tickSize":-4,"domainColor":"#111","domainWidth":1.6,"title":null,"zindex":1}},"y":{"field":"dm","type":"quantitative","scale":{"domain":[-0.15,0.58],"nice":false,"zero":false},"axis":{"orient":"left","values":[0,0.3],"format":".1f","tickSize":6,"labelPadding":8,"domainColor":"#111","domainWidth":1.6,"title":null,"zindex":1}}}},
{"data":{"name":"dmc"},"mark":{"type":"circle","opacity":0},"encoding":{"x":{"field":"phase","type":"quantitative","axis":{"orient":"top","ticks":false,"labels":false,"domainColor":"#111","domainWidth":1.6,"title":null,"zindex":1}},"y":{"field":"dm","type":"quantitative","axis":{"orient":"right","values":[0,0.3],"labels":false,"tickSize":6,"domainColor":"#111","domainWidth":1.6,"title":"(c)","titleAngle":0,"titleAlign":"left","titleBaseline":"middle","titlePadding":7,"titleFontSize":12.5,"zindex":1}}}}
],
"resolve":{"axis":{"x":"independent","y":"independent"}}},
{"width":568,"height":49,
"layer":[
{"data":{"name":"bands"},"mark":{"type":"rect","clip":true},"encoding":{"x":{"field":"x0","type":"quantitative","scale":{"domain":[0.3074,4.5148],"nice":false,"zero":false},"axis":null},"x2":{"field":"x1"},"color":{"field":"kind","type":"nominal","scale":{"domain":["light","salmon","lav"],"range":["#fef2df","#f9c4ad","#cbc8e8"]},"legend":null}}},
{"data":{"name":"dmbig"},"mark":{"type":"rule","color":"#555","strokeWidth":1},"encoding":{"x":{"field":"phase","type":"quantitative","axis":null}}},
{"data":{"name":"dmd"},"mark":{"type":"errorbar","color":"#9a93a3","clip":true,"rule":{"strokeWidth":1}},"encoding":{"x":{"field":"phase","type":"quantitative","axis":null},"y":{"field":"dm","type":"quantitative","scale":{"domain":[-0.0098,0.0095],"nice":false,"zero":false},"axis":null},"yError":{"field":"err"}}},
{"data":{"name":"dmd"},"mark":{"type":"circle","size":16,"color":"#2a1b3d","opacity":1,"clip":true},"encoding":{"x":{"field":"phase","type":"quantitative","axis":{"orient":"bottom","values":[0.5,0.75,1,1.25,1.5,1.75,2,2.25,2.5,2.75,3,3.25,3.5,3.75,4,4.25,4.5],"labels":false,"tickSize":-4,"domainColor":"#111","domainWidth":1.6,"title":null,"zindex":1}},"y":{"field":"dm","type":"quantitative","axis":{"orient":"left","values":[-0.005,0,0.005],"format":".3f","tickSize":6,"labelPadding":8,"domainColor":"#111","domainWidth":1.6,"title":["DM","(pc cm⁻³)"],"titleX":-80,"titleY":14,"titleBaseline":"middle","titleAlign":"center","titleLineHeight":14,"zindex":1}}}},
{"data":{"name":"dmd"},"mark":{"type":"circle","opacity":0},"encoding":{"x":{"field":"phase","type":"quantitative","axis":{"orient":"top","ticks":false,"labels":false,"domainColor":"#111","domainWidth":1.6,"title":null,"zindex":1}},"y":{"field":"dm","type":"quantitative","axis":{"orient":"right","values":[-0.005,0,0.005],"labels":false,"tickSize":6,"domainColor":"#111","domainWidth":1.6,"title":"(d)","titleAngle":0,"titleAlign":"left","titleBaseline":"middle","titlePadding":7,"titleFontSize":12.5,"zindex":1}}}}
],
"resolve":{"axis":{"y":"independent","x":"independent"}}},
{"width":568,"height":28,
"layer":[
{"data":{"name":"bands"},"mark":{"type":"rect","clip":true},"encoding":{"x":{"field":"x0","type":"quantitative","scale":{"domain":[0.3074,4.5148],"nice":false,"zero":false},"axis":null},"x2":{"field":"x1"},"color":{"field":"kind","type":"nominal","scale":{"domain":["light","salmon","lav"],"range":["#fef2df","#f9c4ad","#cbc8e8"]},"legend":null}}},
{"data":{"name":"sie"},"mark":{"type":"circle","size":14,"color":"#2f4a2b","opacity":1,"clip":true},"encoding":{"x":{"field":"phase","type":"quantitative","axis":{"orient":"bottom","values":[0.5,0.75,1,1.25,1.5,1.75,2,2.25,2.5,2.75,3,3.25,3.5,3.75,4,4.25,4.5],"labels":false,"tickSize":-4,"domainColor":"#111","domainWidth":1.6,"title":null,"zindex":1}},"y":{"field":"si","type":"quantitative","scale":{"domain":[-4.5,5.65],"nice":false,"zero":false},"axis":{"orient":"left","values":[-1,3],"format":"d","tickSize":6,"labelPadding":8,"domainColor":"#111","domainWidth":1.6,"title":["Spectral","Index"],"titleX":-64,"titleY":32,"titleBaseline":"middle","titleAlign":"center","titleLineHeight":14,"zindex":1}}}},
{"data":{"name":"sie"},"mark":{"type":"circle","opacity":0},"encoding":{"x":{"field":"phase","type":"quantitative","axis":{"orient":"top","ticks":false,"labels":false,"domainColor":"#111","domainWidth":1.6,"title":null,"zindex":1}},"y":{"field":"si","type":"quantitative","axis":{"orient":"right","values":[-1,3],"labels":false,"tickSize":6,"domainColor":"#111","domainWidth":1.6,"title":"(e)","titleAngle":0,"titleAlign":"left","titleBaseline":"middle","titlePadding":7,"titleFontSize":12.5,"zindex":1}}}}
],
"resolve":{"axis":{"x":"independent","y":"independent"}}},
{"width":568,"height":48,
"layer":[
{"data":{"name":"bands"},"mark":{"type":"rect","clip":true},"encoding":{"x":{"field":"x0","type":"quantitative","scale":{"domain":[0.3074,4.5148],"nice":false,"zero":false},"axis":null},"x2":{"field":"x1"},"color":{"field":"kind","type":"nominal","scale":{"domain":["light","salmon","lav"],"range":["#fef2df","#f9c4ad","#cbc8e8"]},"legend":null}}},
{"data":{"name":"sif"},"mark":{"type":"errorbar","color":"#a9b0a2","clip":true,"rule":{"strokeWidth":1}},"encoding":{"x":{"field":"phase","type":"quantitative","axis":null},"y":{"field":"si","type":"quantitative","scale":{"domain":[-3.45,-1.005],"nice":false,"zero":false},"axis":null},"yError":{"field":"err"}}},
{"data":{"name":"sif"},"mark":{"type":"circle","size":16,"color":"#2f4a2b","opacity":1,"clip":true},"encoding":{"x":{"field":"phase","type":"quantitative","axis":{"orient":"bottom","values":[0.5,0.75,1,1.25,1.5,1.75,2,2.25,2.5,2.75,3,3.25,3.5,3.75,4,4.25,4.5],"format":".2f","labelFontSize":10.5,"tickSize":-4,"labelPadding":14,"domainColor":"#111","domainWidth":1.6,"title":"Orbital phase","titleFontSize":12,"titlePadding":13,"zindex":1}},"y":{"field":"si","type":"quantitative","axis":{"orient":"left","values":[-2.5,-1.5],"format":".1f","tickSize":6,"labelPadding":8,"domainColor":"#111","domainWidth":1.6,"title":null,"zindex":1}}}},
{"data":{"name":"sif"},"mark":{"type":"circle","opacity":0},"encoding":{"x":{"field":"phase","type":"quantitative","axis":{"orient":"top","ticks":false,"labels":false,"domainColor":"#111","domainWidth":1.6,"title":null,"zindex":1}},"y":{"field":"si","type":"quantitative","axis":{"orient":"right","values":[-2.5,-1.5],"labels":false,"tickSize":6,"domainColor":"#111","domainWidth":1.6,"title":"(f)","titleAngle":0,"titleAlign":"left","titleBaseline":"middle","titlePadding":7,"titleFontSize":12.5,"zindex":1}}}}
],
"resolve":{"axis":{"y":"independent","x":"independent"}}}
],
"spacing":0,
"bounds":"flush"
}
